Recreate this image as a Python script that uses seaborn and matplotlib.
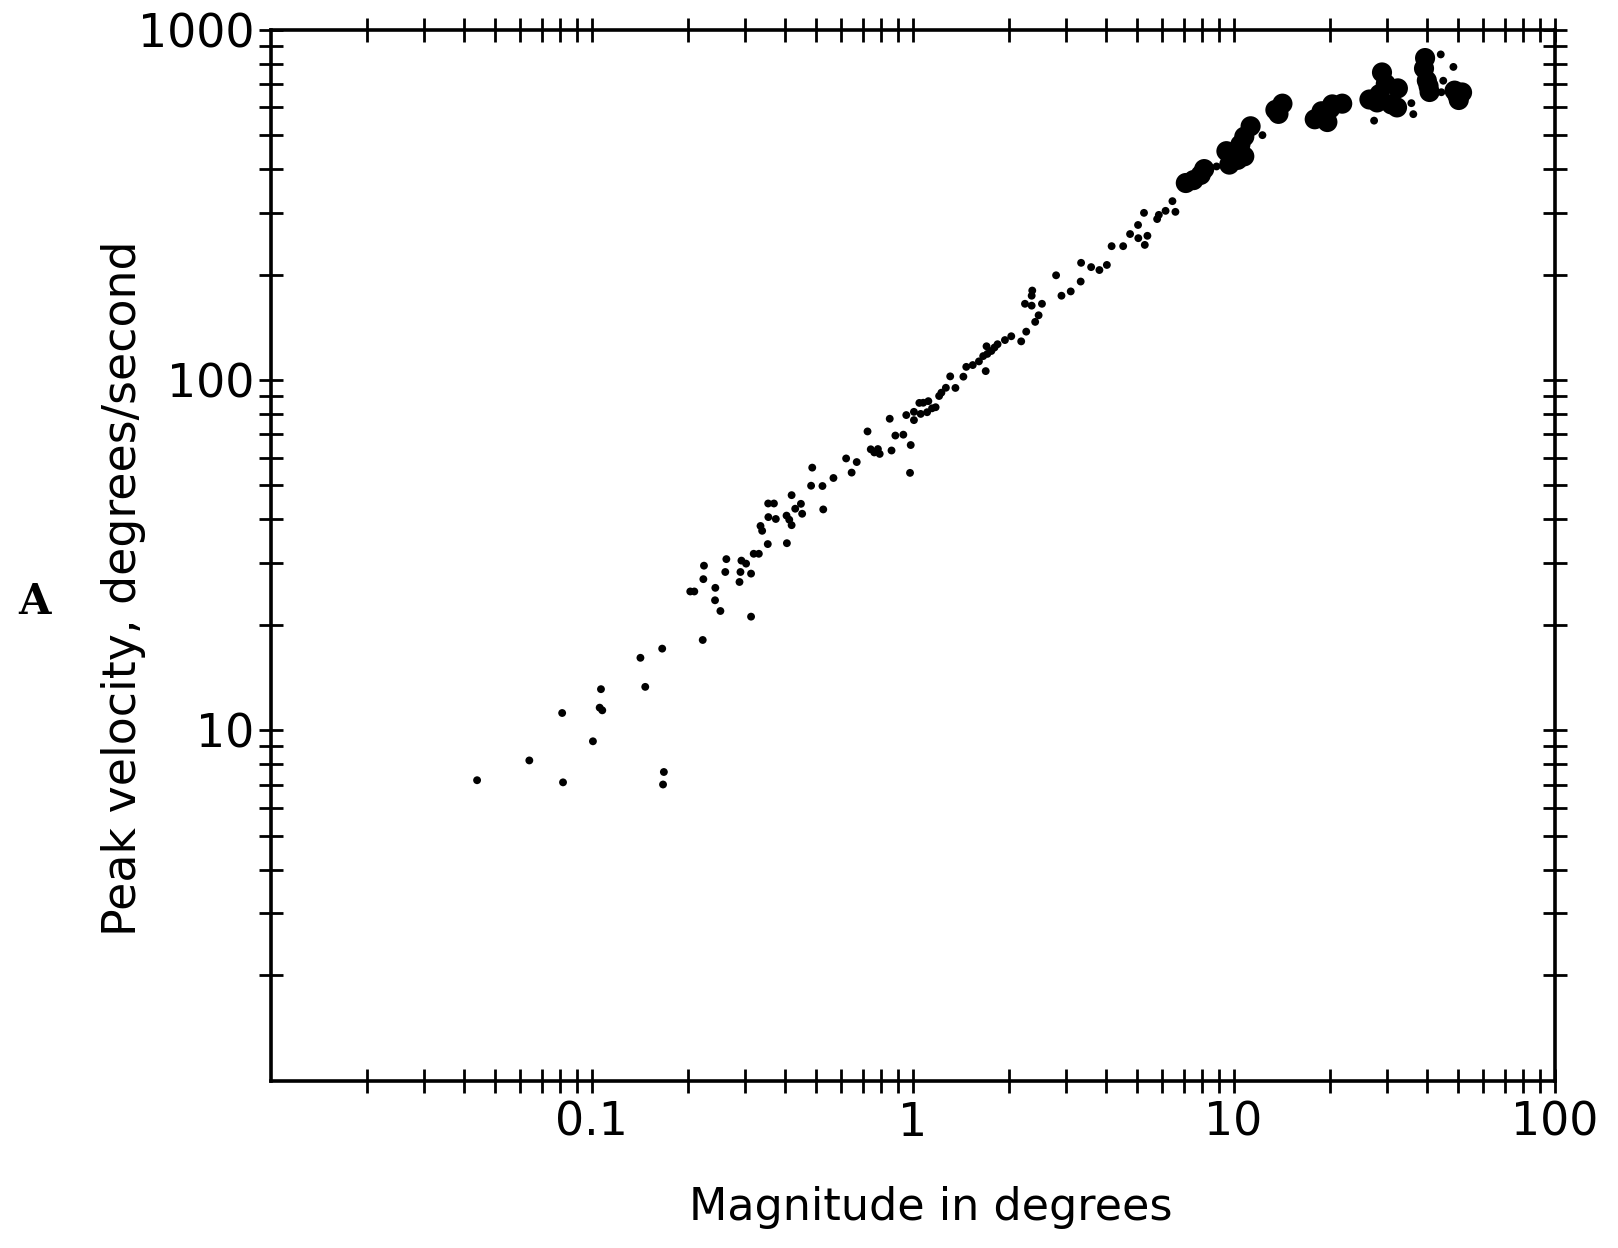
import matplotlib
matplotlib.use("Agg")
import matplotlib.pyplot as plt
from matplotlib.ticker import LogLocator, NullFormatter
import pandas as pd
import seaborn as sns

# single saccades (magnitude in degrees, peak velocity in deg/s)
magnitude = [
    0.044, 0.0815, 0.064, 0.167, 0.168, 0.101, 0.081, 0.106, 0.108, 0.107,
    0.147, 0.142, 0.166, 0.222, 0.252, 0.314, 0.203, 0.209, 0.2425, 0.243,
    0.223, 0.224, 0.263, 0.261, 0.289, 0.291, 0.293, 0.303, 0.314, 0.32,
    0.332, 0.354, 0.406, 0.340, 0.336, 0.3555, 0.375, 0.413, 0.405, 0.42,
    0.355, 0.37, 0.420, 0.449, 0.453, 0.431, 0.527, 0.483, 0.524, 0.487,
    0.567, 0.646, 0.621, 0.670, 0.76, 0.79, 0.78, 0.741, 0.860, 0.982,
    0.987, 0.724, 0.849, 0.884, 0.936, 0.956, 1.01, 1.01, 1.08, 1.05,
    1.12, 1.11, 1.06, 1.15, 1.18, 1.23, 1.21, 1.27, 1.31, 1.36,
    1.44, 1.54, 1.47, 1.61, 1.69, 1.71, 1.66, 1.80, 1.76, 1.70,
    1.84, 2.03, 1.94, 2.18, 2.26, 2.41, 2.35, 2.35, 2.53, 2.47,
    2.24, 2.36, 2.80, 2.91, 3.11, 3.34, 3.35, 3.60, 3.82, 4.03,
    4.17, 4.53, 4.76, 5.04, 5.05, 5.29, 5.39, 5.26, 5.78, 5.85,
    6.14, 6.45, 6.59, 8.85, 12.3, 27.4, 35.8, 36.3, 44.2, 48.4,
    45.0, 44.4,
]
peak_velocity = [
    7.2, 7.1, 8.2, 7.0, 7.6, 9.3, 11.2, 11.6, 11.4, 13.1,
    13.3, 16.1, 17.1, 18.1, 21.9, 21.1, 24.9, 24.9, 23.5, 25.5,
    27.0, 29.5, 30.8, 28.3, 26.5, 28.3, 30.5, 29.9, 28.0, 31.9,
    31.9, 34.0, 34.2, 37.1, 38.3, 40.6, 40.1, 39.9, 41.0, 38.5,
    44.4, 44.4, 46.9, 44.3, 41.5, 42.9, 42.7, 49.9, 49.8, 56.2,
    52.5, 54.4, 59.7, 58.3, 62.1, 61.5, 63.5, 63.4, 62.9, 54.3,
    65.2, 71.3, 77.5, 69.4, 69.8, 79.4, 76.8, 81.1, 86.1, 86.0,
    87.0, 80.9, 80.0, 83.0, 83.6, 92.0, 90.0, 95.0, 102.4, 94.9,
    102.2, 110.3, 109.0, 113.0, 106.0, 118.7, 117.0, 123.8, 121.0, 124.8,
    126.5, 133.3, 130.0, 128.9, 137.4, 146.5, 163.0, 174.0, 165.0, 153.0,
    165.0, 180.0, 199.0, 174.0, 179.0, 191.0, 216.0, 210.0, 206.0, 213.0,
    241.0, 241.0, 261.0, 277.0, 254.0, 243.0, 258.0, 300.0, 288.0, 296.0,
    304.0, 324.0, 302.0, 407.0, 500.0, 550.0, 617.0, 574.0, 850.0, 783.0,
    715.0, 663.0,
]

# dense clumps of overlapping saccades at large amplitudes
cluster_magnitude = [
    7.1, 7.5, 7.9, 8.1,
    9.7, 10.3, 10.8,
    9.5, 10.1, 10.5, 10.8, 11.3,
    13.5, 14.2, 13.8,
    17.9, 18.8, 20.3, 21.8, 19.6, 20.0,
    26.5, 28.5, 29.0, 29.8, 31.0, 32.5, 32.3, 28.0,
    39.5, 39.2, 40.0, 40.8, 40.5,
    49.8, 48.8, 51.5, 50.3,
]
cluster_velocity = [
    365, 372, 385, 400,
    412, 425, 435,
    450, 445, 470, 495, 530,
    590, 615, 575,
    555, 585, 612, 615, 545, 595,
    632, 655, 755, 700, 612, 680, 600, 620,
    830, 775, 716, 664, 690,
    650, 670, 662, 630,
]

x_ticks = [0.1, 1, 10, 100]
x_tick_labels = ["0.1", "1", "10", "100"]
y_ticks = [10, 100, 1000]
y_tick_labels = ["10", "100", "1000"]

saccades = pd.DataFrame({"Magnitude": magnitude, "Peak velocity": peak_velocity})
clumps = pd.DataFrame({"Magnitude": cluster_magnitude, "Peak velocity": cluster_velocity})

sns.set_style("white")
plt.rcParams["font.family"] = ["DejaVu Sans"]
plt.rcParams["text.color"] = "black"
plt.rcParams["xtick.color"] = "black"
plt.rcParams["ytick.color"] = "black"

fig = plt.figure(figsize=(16.18, 12.48), dpi=100)
ax = fig.add_axes([0.1672, 0.1342, 0.7936, 0.842])

sns.scatterplot(data=saccades, x="Magnitude", y="Peak velocity", s=32,
                color="black", edgecolor="none", ax=ax)
sns.scatterplot(data=clumps, x="Magnitude", y="Peak velocity", s=210,
                color="black", edgecolor="none", ax=ax)

ax.set_xscale("log")
ax.set_yscale("log")
ax.set_xlim(0.01, 100)
ax.set_ylim(1, 1000)
ax.set_xticks(x_ticks, x_tick_labels)
ax.set_yticks(y_ticks, y_tick_labels)
ax.xaxis.set_minor_locator(LogLocator(base=10, subs=range(2, 10)))
ax.yaxis.set_minor_locator(LogLocator(base=10, subs=range(2, 10)))
ax.xaxis.set_minor_formatter(NullFormatter())
ax.yaxis.set_minor_formatter(NullFormatter())

ax.tick_params(which="both", direction="inout", length=17, width=2,
               bottom=True, top=True, left=True, right=True, color="black")
ax.tick_params(axis="x", which="major", labelsize=33, pad=6)
ax.tick_params(axis="y", which="major", labelsize=33, pad=3)
for sp in ax.spines.values():
    sp.set_linewidth(2.6)
    sp.set_color("black")

ax.set_xlabel("")
ax.set_ylabel("")
fig.text(0.575, 0.0325, "Magnitude in degrees", ha="center", va="center",
         fontsize=32, color="black")
fig.text(0.0766, 0.529, "Peak velocity, degrees/second", ha="center",
         va="center", rotation=90, fontsize=33, color="black")
fig.text(0.021, 0.5176, "A", ha="center", va="center", fontsize=30,
         fontweight="bold", family=["DejaVu Serif"], color="black")

plt.savefig("out.png", dpi=100)
